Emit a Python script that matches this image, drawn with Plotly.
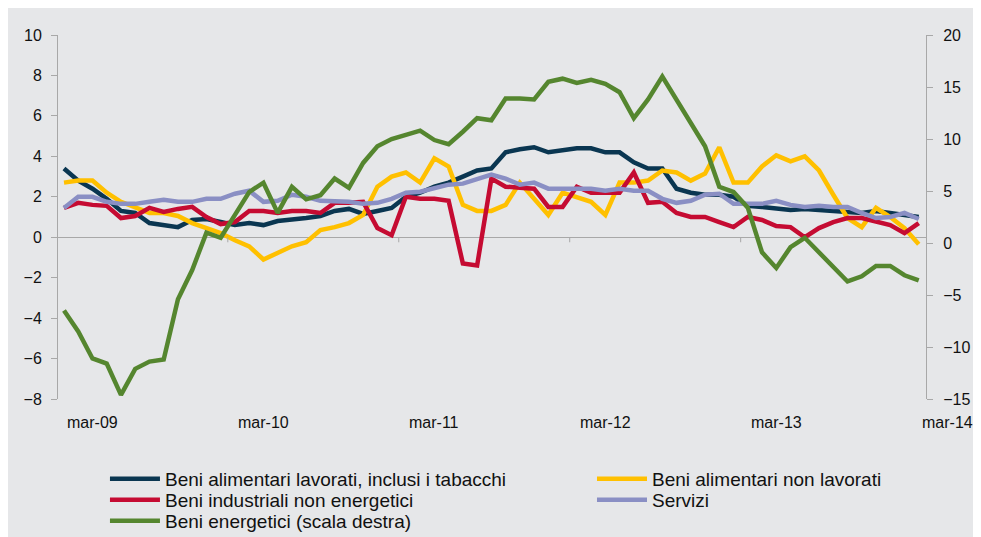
import plotly.graph_objects as go

months = list(range(61))  # monthly index, mar-09 .. mar-14
tick_labels = ["mar-09", "mar-10", "mar-11", "mar-12", "mar-13", "mar-14"]
tick_label_pos = [2, 14, 26, 38, 50, 62]
tick_mark_pos = [11.5, 23.5, 35.5, 47.5]

names = [
    "Beni alimentari lavorati, inclusi i tabacchi",
    "Beni alimentari non lavorati",
    "Beni industriali non energetici",
    "Servizi",
    "Beni energetici (scala destra)",
]

alim_lav = [3.4, 2.8, 2.4, 1.9, 1.3, 1.2, 0.7, 0.6, 0.5, 0.85, 0.9, 0.75, 0.6, 0.7, 0.6, 0.8,
            0.85, 0.95, 1.05, 1.3, 1.4, 1.15, 1.3, 1.45, 2.0, 2.2, 2.5, 2.7, 3.0, 3.3, 3.4,
            4.2, 4.35, 4.45, 4.2, 4.3, 4.4, 4.4, 4.2, 4.2, 3.7, 3.4, 3.4, 2.4, 2.2, 2.1, 2.1,
            2.0, 1.55, 1.5, 1.45, 1.35, 1.4, 1.35, 1.3, 1.25, 1.2, 1.3, 1.2, 1.1, 1.0]

alim_nonlav = [2.7, 2.8, 2.8, 2.2, 1.75, 1.5, 1.2, 1.2, 1.05, 0.7, 0.45, 0.2, -0.15, -0.45, -1.1,
               -0.8, -0.45, -0.25, 0.35, 0.5, 0.7, 1.1, 2.5, 3.0, 3.2, 2.7, 3.9, 3.5, 1.6, 1.3,
               1.3, 1.6, 2.7, 1.9, 1.1, 2.2, 1.95, 1.75, 1.1, 2.7, 2.7, 2.8, 3.3, 3.2, 2.8, 3.15,
               4.45, 2.7, 2.7, 3.5, 4.05, 3.75, 4.0, 3.3, 2.1, 0.95, 0.5, 1.45, 1.0, 0.45, -0.35]

industriali = [1.45, 1.7, 1.6, 1.55, 0.95, 1.05, 1.45, 1.25, 1.4, 1.5, 1.0, 0.65, 0.75, 1.3, 1.3,
               1.2, 1.3, 1.3, 1.2, 1.7, 1.7, 1.75, 0.45, 0.1, 2.0, 1.9, 1.9, 1.8, -1.3, -1.4,
               2.9, 2.5, 2.45, 2.4, 1.5, 1.5, 2.5, 2.2, 2.2, 2.2, 3.2, 1.7, 1.75, 1.2, 1.0, 1.0,
               0.75, 0.5, 1.0, 0.85, 0.55, 0.5, 0.0, 0.45, 0.75, 0.95, 0.95, 0.75, 0.6, 0.2, 0.7]

servizi = [1.45, 2.0, 2.0, 1.75, 1.65, 1.65, 1.75, 1.85, 1.75, 1.75, 1.9, 1.9, 2.15, 2.3, 1.75,
           1.8, 2.1, 2.0, 1.8, 1.8, 1.75, 1.65, 1.7, 1.9, 2.2, 2.25, 2.45, 2.6, 2.65, 2.9, 3.1,
           2.9, 2.6, 2.7, 2.4, 2.4, 2.4, 2.4, 2.3, 2.4, 2.3, 2.3, 1.9, 1.7, 1.8, 2.1, 2.15,
           1.65, 1.65, 1.65, 1.8, 1.6, 1.5, 1.55, 1.5, 1.5, 1.2, 0.95, 1.0, 1.2, 0.9]

energetici = [-6.5, -8.5, -11.1, -11.6, -14.6, -12.1, -11.4, -11.2, -5.4, -2.6, 1.0, 0.5, 2.7,
              4.9, 5.8, 2.9, 5.4, 4.2, 4.6, 6.2, 5.3, 7.7, 9.3, 10.0, 10.4, 10.8, 9.9, 9.5,
              10.7, 12.0, 11.8, 13.9, 13.9, 13.8, 15.5, 15.8, 15.4, 15.7, 15.3, 14.5, 12.0,
              13.8, 16.0, 13.8, 11.7, 9.3, 5.4, 4.9, 3.4, -0.9, -2.4, -0.4, 0.5, -0.9, -2.4,
              -3.7, -3.2, -2.2, -2.2, -3.1, -3.6]

colors = ["#0a3651", "#ffc000", "#c50b32", "#8a8fc4", "#55862f"]
left_series = [alim_lav, alim_nonlav, industriali, servizi]

FONT = "Liberation Sans, Arial, sans-serif"
AXC = "#a8a8a8"
TXT = "#111111"
BG = "#e6e7e9"
X_RANGE = [-0.42, 60.51]

fig = go.Figure()
for i, (name, vals, col) in enumerate(zip(names[:4], left_series, colors[:4])):
    fig.add_trace(go.Scatter(x=months, y=vals, name=name, mode="lines",
                             line=dict(color=col, width=4.5), yaxis="y",
                             legend="legend" if i == 0 else f"legend{i + 1}"))
fig.add_trace(go.Scatter(x=months, y=energetici, name=names[4], mode="lines",
                         line=dict(color=colors[4], width=4.5), yaxis="y2",
                         legend="legend5"))

shapes = []
for xm in tick_mark_pos:
    shapes.append(dict(type="line", xref="x", yref="y", x0=xm, x1=xm, y0=0, y1=-0.25,
                       line=dict(color=AXC, width=1)))

span = X_RANGE[1] - X_RANGE[0]
annotations = [dict(x=(p - X_RANGE[0]) / span, y=-0.0632, xref="paper", yref="paper",
                    text=t, showarrow=False,
                    font=dict(family=FONT, size=16, color=TXT),
                    xanchor="center", yanchor="middle")
               for p, t in zip(tick_label_pos, tick_labels)]

leg_common = dict(orientation="v", xanchor="left", yanchor="middle",
                  bgcolor="rgba(0,0,0,0)", itemwidth=50, tracegroupgap=0,
                  font=dict(family=FONT, size=19, color=TXT))
col_x = [0.0541, 0.6152]
row_y = [-0.2198, -0.2775, -0.3352]

fig.update_layout(
    width=981, height=537,
    margin=dict(l=50, r=63, t=27, b=146, autoexpand=False),
    paper_bgcolor=BG,
    plot_bgcolor=BG,
    font=dict(family=FONT, size=16, color=TXT),
    showlegend=True,
    legend=dict(x=col_x[0], y=row_y[0], **leg_common),
    legend2=dict(x=col_x[1], y=row_y[0], **leg_common),
    legend3=dict(x=col_x[0], y=row_y[1], **leg_common),
    legend4=dict(x=col_x[1], y=row_y[1], **leg_common),
    legend5=dict(x=col_x[0], y=row_y[2], **leg_common),
    xaxis=dict(range=X_RANGE, showticklabels=False, showgrid=False,
               zeroline=False, showline=False, ticks=""),
    yaxis=dict(range=[-8, 10], dtick=2, showgrid=False, zeroline=True,
               zerolinecolor=AXC, zerolinewidth=1, showline=True, linecolor=AXC,
               linewidth=1, ticks="outside", ticklen=6, tickcolor=AXC,
               ticklabelstandoff=6, tickfont=dict(size=16)),
    yaxis2=dict(range=[-15, 20], dtick=5, overlaying="y", side="right",
                showgrid=False, zeroline=False, showline=True, linecolor=AXC,
                linewidth=1, ticks="outside", ticklen=6, tickcolor=AXC,
                ticklabelstandoff=7, tickfont=dict(size=16)),
    shapes=shapes,
    annotations=annotations,
)

fig.write_html("out.html")
